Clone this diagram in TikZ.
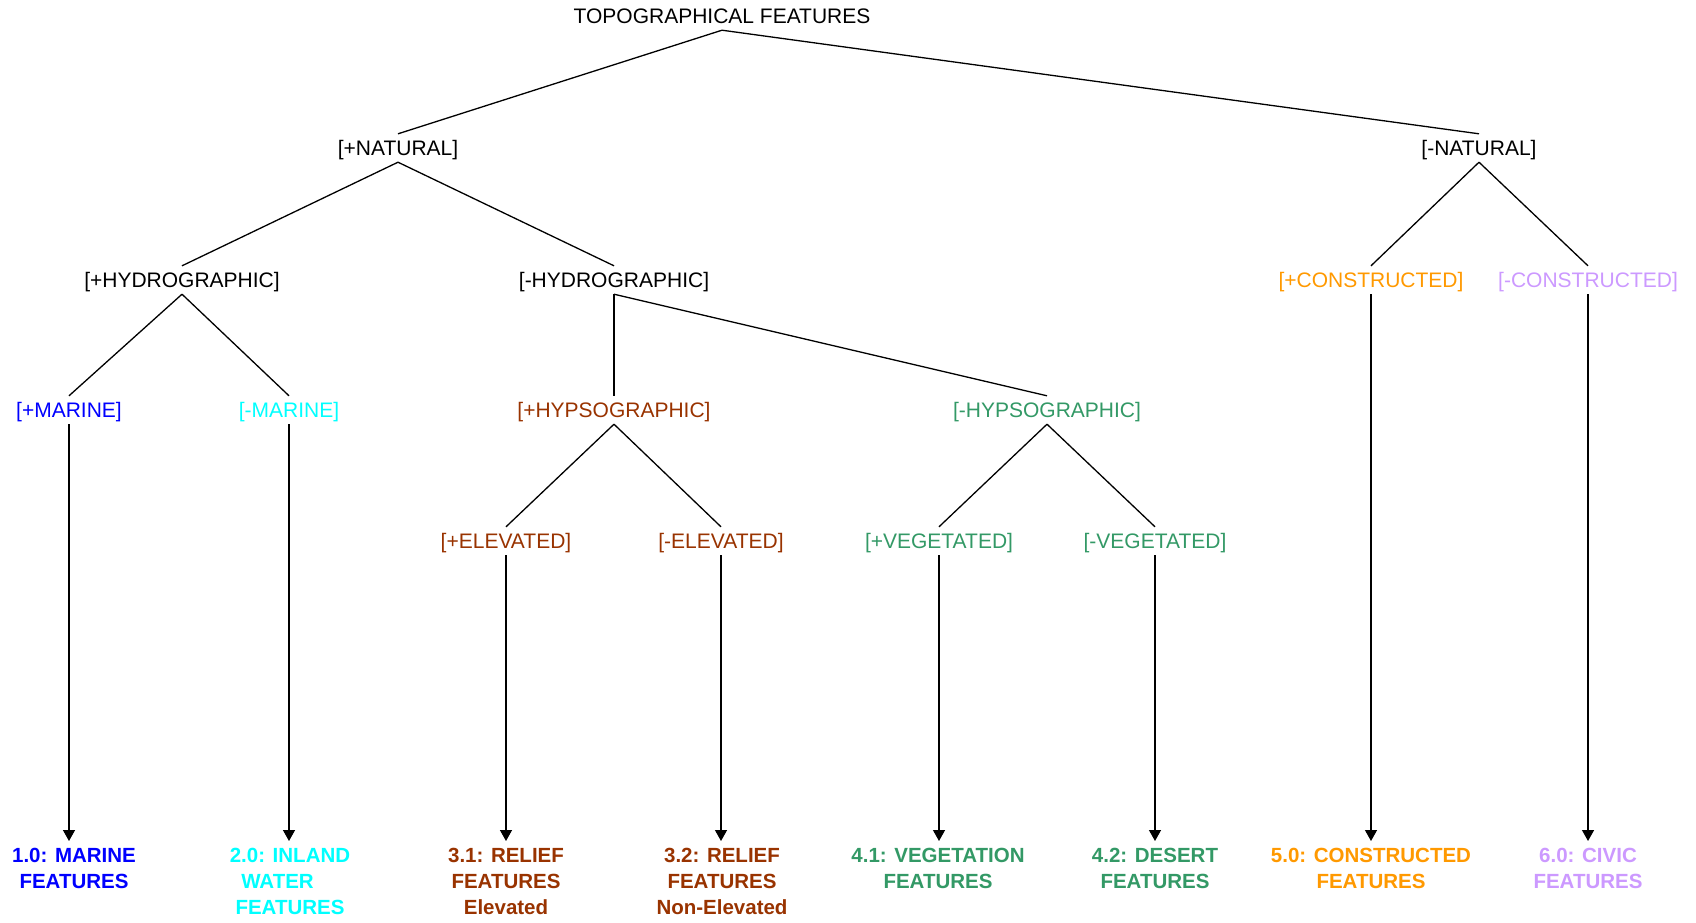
\documentclass[tikz,border=0pt]{standalone}
\usepackage{fontspec}
\setmainfont{Liberation Sans}
\usetikzlibrary{arrows.meta}
\definecolor{cblue}{HTML}{0000FF}
\definecolor{ccyan}{HTML}{00FFFF}
\definecolor{cbrown}{HTML}{993300}
\definecolor{cgreen}{HTML}{339966}
\definecolor{corange}{HTML}{FF9900}
\definecolor{cpurple}{HTML}{CC99FF}
\begin{document}
\begin{tikzpicture}[x=1pt,y=-1pt,
  lbl/.style={font=\fontsize{21}{25}\selectfont, inner sep=0pt, text height=15pt, text depth=0pt, minimum height=28pt},
  leaf/.style={font=\bfseries\fontsize{20.5}{26}\selectfont, align=center, inner xsep=0pt, inner ysep=7pt, anchor=north},
  edge/.style={line width=1.3pt, black},
  arr/.style={edge, -{Triangle[width=12pt,length=11pt]}}]
\useasboundingbox[fill=white] (0,0) rectangle (1696,922);
% nodes
\node[lbl] (topo) at (722,16) {TOPOGRAPHICAL FEATURES};
\node[lbl] (natp) at (398,148) {[+NATURAL]};
\node[lbl] (natm) at (1479,148) {[-NATURAL]};
\node[lbl] (hydp) at (182,280) {[+HYDROGRAPHIC]};
\node[lbl] (hydm) at (614,280) {[-HYDROGRAPHIC]};
\node[lbl, text=corange] (conp) at (1371,280) {[+CONSTRUCTED]};
\node[lbl, text=cpurple] (conm) at (1588,280) {[-CONSTRUCTED]};
\node[lbl, text=cblue] (marp) at (69,410) {[+MARINE]};
\node[lbl, text=ccyan] (marm) at (289,410) {[-MARINE]};
\node[lbl, text=cbrown] (hypp) at (614,410) {[+HYPSOGRAPHIC]};
\node[lbl, text=cgreen] (hypm) at (1047,410) {[-HYPSOGRAPHIC]};
\node[lbl, text=cbrown] (elep) at (506,541) {[+ELEVATED]};
\node[lbl, text=cbrown] (elem) at (721,541) {[-ELEVATED]};
\node[lbl, text=cgreen] (vegp) at (939,541) {[+VEGETATED]};
\node[lbl, text=cgreen] (vegm) at (1155,541) {[-VEGETATED]};
% leaves
\node[leaf, text=cblue] (l1) at (74,841) {1.0: MARINE\\FEATURES};
\node[leaf, text=ccyan] (l2) at (290,841) {2.0: INLAND\\WATER\kern25pt\\FEATURES};
\node[leaf, text=cbrown] (l31) at (506,841) {3.1: RELIEF\\FEATURES\\Elevated};
\node[leaf, text=cbrown] (l32) at (722,841) {3.2: RELIEF\\FEATURES\\Non-Elevated};
\node[leaf, text=cgreen] (l41) at (938,841) {4.1: VEGETATION\\FEATURES};
\node[leaf, text=cgreen] (l42) at (1155,841) {4.2: DESERT\\FEATURES};
\node[leaf, text=corange] (l5) at (1371,841) {5.0: CONSTRUCTED\\FEATURES};
\node[leaf, text=cpurple] (l6) at (1588,841) {6.0: CIVIC\\FEATURES};
% tree edges
\draw[edge] (topo.south) -- (natp.north);
\draw[edge] (topo.south) -- (natm.north);
\draw[edge] (natp.south) -- (hydp.north);
\draw[edge] (natp.south) -- (hydm.north);
\draw[edge] (natm.south) -- (conp.north);
\draw[edge] (natm.south) -- (conm.north);
\draw[edge] (hydp.south) -- (marp.north);
\draw[edge] (hydp.south) -- (marm.north);
\draw[edge] (hydm.south) -- (hypp.north);
\draw[edge] (hydm.south) -- (hypm.north);
\draw[edge] (hypp.south) -- (elep.north);
\draw[edge] (hypp.south) -- (elem.north);
\draw[edge] (hypm.south) -- (vegp.north);
\draw[edge] (hypm.south) -- (vegm.north);
% arrows to leaves
\draw[arr] (marp.south) -- (marp.south |- l1.north);
\draw[arr] (marm.south) -- (marm.south |- l2.north);
\draw[arr] (elep.south) -- (elep.south |- l31.north);
\draw[arr] (elem.south) -- (elem.south |- l32.north);
\draw[arr] (vegp.south) -- (vegp.south |- l41.north);
\draw[arr] (vegm.south) -- (vegm.south |- l42.north);
\draw[arr] (conp.south) -- (conp.south |- l5.north);
\draw[arr] (conm.south) -- (conm.south |- l6.north);
\end{tikzpicture}
\end{document}
